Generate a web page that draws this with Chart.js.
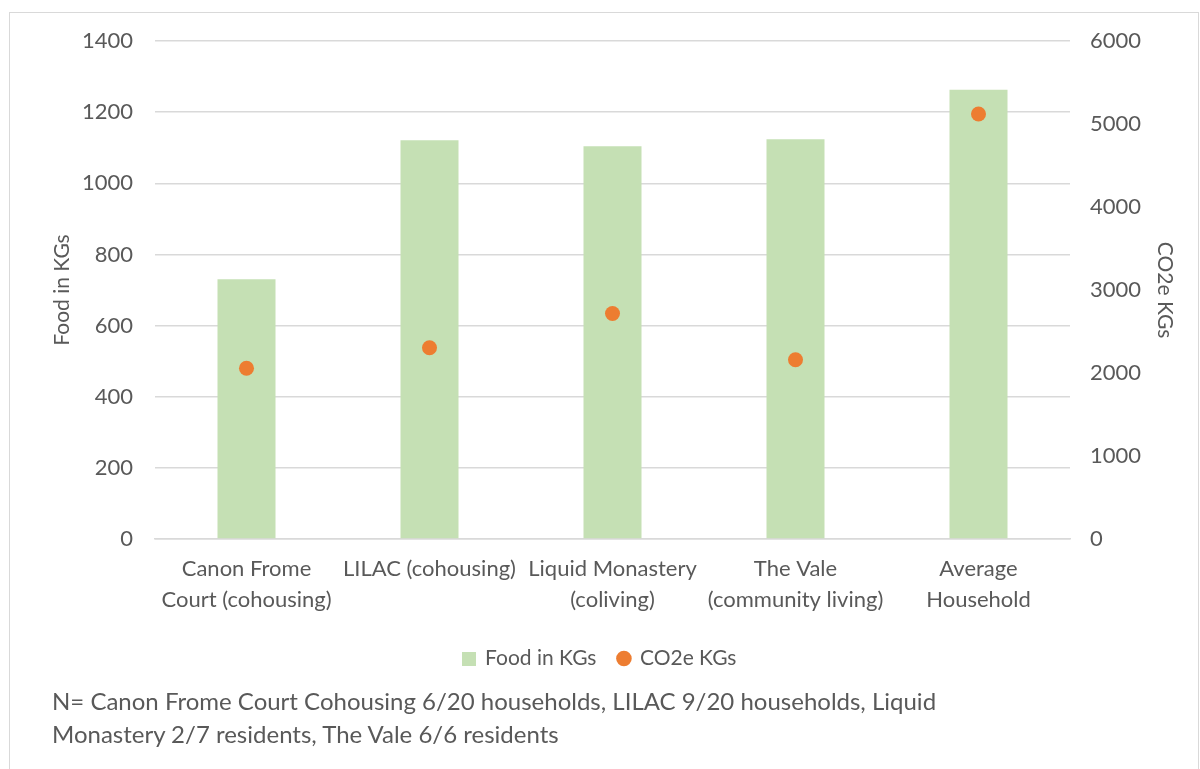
<!DOCTYPE html>
<html>
<head>
<meta charset="utf-8">
<script src="https://cdn.jsdelivr.net/npm/chart.js@4"></script>
<style>
  html, body { margin: 0; padding: 0; background: #fff; }
  #wrap { position: relative; width: 1200px; height: 769px; }
  #frame { position: absolute; left: 9px; top: 12px; width: 1190px; height: 760px; border: 1px solid #D9D9D9; box-sizing: border-box; }
  #note { position: absolute; left: 52px; top: 684px; font-family: Lato, sans-serif; font-size: 24px; line-height: 33px; color: #595959; }
</style>
</head>
<body>
<div id="wrap">
  <div id="frame"></div>
  <canvas id="myChart" width="1200" height="769"></canvas>
  <div id="note">N= Canon Frome Court Cohousing 6/20 households, LILAC 9/20 households, Liquid<br>Monastery 2/7 residents, The Vale 6/6 residents</div>
</div>
<script>
// data
const categories = [
  ['Canon Frome', 'Court (cohousing)'],
  'LILAC (cohousing)',
  ['Liquid Monastery', '(coliving)'],
  ['The Vale', '(community living)'],
  ['Average', 'Household']
]
const foodKgs = [730, 1121, 1104, 1124, 1263]
const co2Kgs = [2058, 2304, 2717, 2159, 5121]
const leftTicks = [0, 200, 400, 600, 800, 1000, 1200, 1400]
const rightTicks = [0, 1000, 2000, 3000, 4000, 5000, 6000]

const grey = '#595959'
const font = { family: 'Lato, sans-serif', size: 22 }
const titleFont = { family: 'Lato, sans-serif', size: 21 }
const legendFont = { family: 'Lato, sans-serif', size: 21 }

// green square for the bar legend entry
const sq = document.createElement('canvas')
sq.width = 14
sq.height = 14
const sqc = sq.getContext('2d')
sqc.fillStyle = '#C5E0B4'
sqc.fillRect(0, 0, 14, 14)

var ctx = document.getElementById('myChart')
var myChart = new Chart(ctx, {
    type: 'bar',
    data: {
        labels: categories,
        datasets: [{
            label: 'Food in KGs',
            data: foodKgs,
            backgroundColor: '#C5E0B4',
            categoryPercentage: 1,
            barPercentage: 0.317,
            pointStyle: sq,
            yAxisID: 'y',
            order: 2
        }, {
            type: 'line',
            label: 'CO2e KGs',
            data: co2Kgs,
            showLine: false,
            pointStyle: 'circle',
            pointRadius: 7.5,
            pointBackgroundColor: '#ED7D31',
            pointBorderWidth: 0,
            backgroundColor: '#ED7D31',
            borderColor: '#ED7D31',
            yAxisID: 'y1',
            order: 1
        }]
    },
    options: {
        responsive: false,
        animation: false,
        layout: { padding: { left: 10, right: 10, top: 41, bottom: 90 } },
        plugins: {
            tooltip: { enabled: false },
            legend: {
                position: 'bottom',
                labels: {
                    usePointStyle: true,
                    boxWidth: 11,
                    boxHeight: 11,
                    color: grey,
                    font: legendFont,
                    padding: 22,
                    sort: (a, b) => a.datasetIndex - b.datasetIndex
                }
            }
        },
        scales: {
            x: {
                grid: { display: false },
                border: { color: '#D9D9D9', width: 1.5 },
                ticks: { color: grey, font: Object.assign({ lineHeight: 1.4 }, font), maxRotation: 0, autoSkip: false, padding: 7 },
                afterFit: s => { s.height = 87 }
            },
            y: {
                position: 'left',
                min: 0, max: 1400,
                afterBuildTicks: s => { s.ticks = leftTicks.map(v => ({ value: v })) },
                grid: { color: '#D9D9D9', lineWidth: 1.5, drawTicks: false },
                border: { display: false },
                ticks: { color: grey, font: font, padding: 22, callback: v => String(v) },
                title: { display: true, text: 'Food in KGs', color: grey, font: titleFont, padding: { top: 40, bottom: 0 } },
                afterFit: s => { s.width = 145 }
            },
            y1: {
                position: 'right',
                min: 0, max: 6000,
                afterBuildTicks: s => { s.ticks = rightTicks.map(v => ({ value: v })) },
                grid: { display: false, drawTicks: false },
                border: { display: false },
                ticks: { color: grey, font: font, padding: 20, callback: v => String(v) },
                title: { display: true, text: 'CO2e KGs', color: grey, font: titleFont, padding: { top: 13, bottom: 0 } },
                afterFit: s => { s.width = 120 }
            }
        }
    }
})
</script>
</body>
</html>
